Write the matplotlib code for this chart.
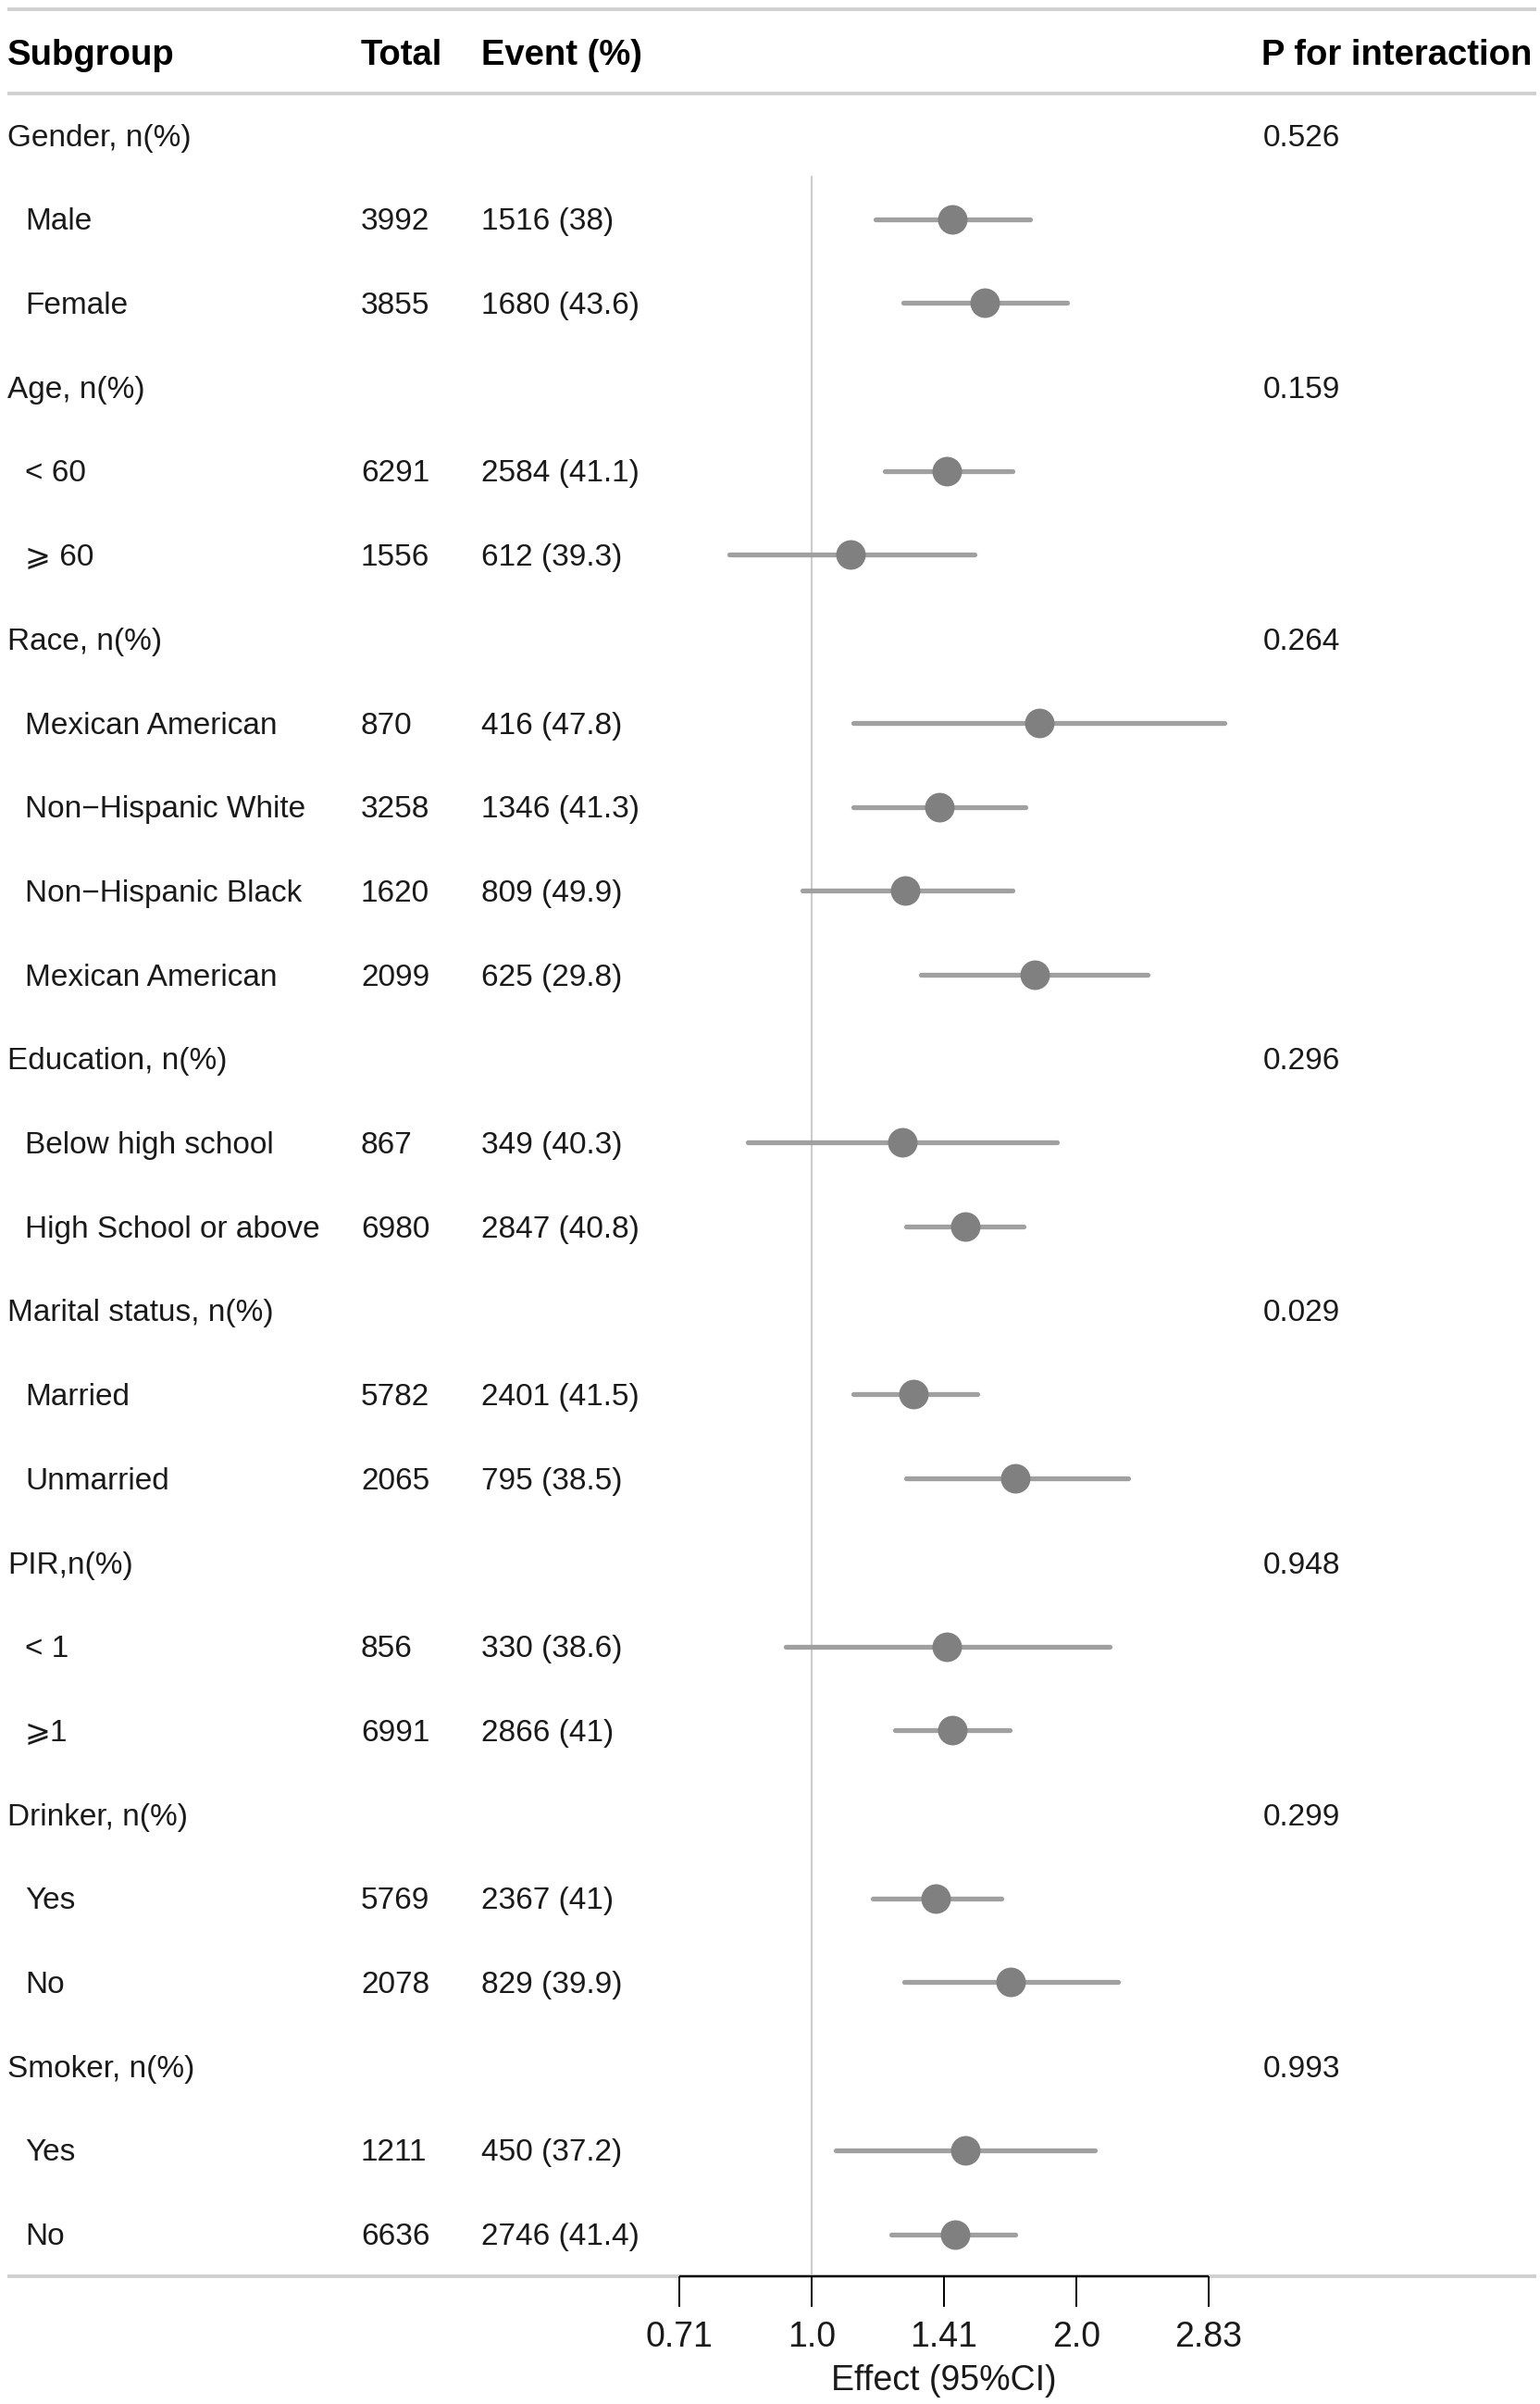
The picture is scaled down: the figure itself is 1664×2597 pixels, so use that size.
import matplotlib
matplotlib.use("Agg")
import matplotlib.pyplot as plt
import numpy as np

# ---------------- data ----------------
group_labels = ["Gender, n(%)", "Age, n(%)", "Race, n(%)", "Education, n(%)",
                "Marital status, n(%)", "PIR,n(%)", "Drinker, n(%)", "Smoker, n(%)"]
p_interaction = ["0.526", "0.159", "0.264", "0.296", "0.029", "0.948", "0.299", "0.993"]
group_sizes = [2, 2, 4, 2, 2, 2, 2, 2]

sub_labels = ["Male", "Female", "< 60", "\u2A7E 60",
              "Mexican American", "Non\u2212Hispanic White", "Non\u2212Hispanic Black", "Mexican American",
              "Below high school", "High School or above", "Married", "Unmarried",
              "< 1", "\u2A7E1", "Yes", "No", "Yes", "No"]
totals = ["3992", "3855", "6291", "1556", "870", "3258", "1620", "2099", "867", "6980",
          "5782", "2065", "856", "6991", "5769", "2078", "1211", "6636"]
events = ["1516 (38)", "1680 (43.6)", "2584 (41.1)", "612 (39.3)", "416 (47.8)",
          "1346 (41.3)", "809 (49.9)", "625 (29.8)", "349 (40.3)", "2847 (40.8)",
          "2401 (41.5)", "795 (38.5)", "330 (38.6)", "2866 (41)", "2367 (41)",
          "829 (39.9)", "450 (37.2)", "2746 (41.4)"]
effect = [1.447, 1.575, 1.426, 1.108, 1.815, 1.397, 1.277, 1.795, 1.267, 1.495,
          1.307, 1.704, 1.426, 1.447, 1.385, 1.685, 1.495, 1.455]
ci_low = [1.183, 1.272, 1.212, 0.806, 1.114, 1.114, 0.975, 1.332, 0.846, 1.281,
          1.114, 1.281, 0.935, 1.243, 1.174, 1.273, 1.064, 1.233]
ci_high = [1.771, 1.952, 1.692, 1.532, 2.950, 1.752, 1.692, 2.410, 1.901, 1.742,
           1.542, 2.292, 2.182, 1.681, 1.643, 2.231, 2.101, 1.704]
tick_values = [2 ** -0.5, 1.0, 2 ** 0.5, 2.0, 2 ** 1.5]
tick_labels = ["0.71", "1.0", "1.41", "2.0", "2.83"]

# ---------------- layout ----------------
W, H = 1665, 2597
DPI = 100
FONT = ["Liberation Sans", "DejaVu Sans"]
plt.rcParams["font.family"] = FONT

row_y0, row_dy = 146.0, 90.7   # pixel y of first row, row spacing
def px2row(p):
    return (p - row_y0) / row_dy

fig = plt.figure(figsize=(W / DPI, H / DPI), dpi=DPI)
fig.patch.set_facecolor("white")

# canvas axes (x in pixels, y in rows)
ax_t = fig.add_axes([0, 0, 1, 1])
ax_t.set_xlim(0, W)
ax_t.set_ylim(px2row(H), px2row(0))
ax_t.axis("off")

# build rows
rows = []  # (kind, label, total, event, p, idx)
k = 0
for g, (gl, pv, n) in enumerate(zip(group_labels, p_interaction, group_sizes)):
    rows.append(("g", gl, "", "", pv, None))
    for j in range(n):
        rows.append(("s", sub_labels[k], totals[k], events[k], "", k))
        k += 1

text_color = "#1a1a1a"
fs_row = 24
fs_head = 27.5
dy_txt = 0.035
dy_head = 0.055

# header
hy = -1 + dy_head
ax_t.text(8, hy, "Subgroup", fontsize=fs_head, fontweight="bold", va="center", ha="left", color="black")
ax_t.text(390, hy, "Total", fontsize=fs_head, fontweight="bold", va="center", ha="left", color="black")
ax_t.text(520, hy, "Event (%)", fontsize=fs_head, fontweight="bold", va="center", ha="left", color="black")
ax_t.text(1363, hy, "P for interaction", fontsize=fs_head, fontweight="bold", va="center", ha="left", color="black")

sub_rows = []
for r, (kind, lab, tot, ev, pv, idx) in enumerate(rows):
    ty = r + dy_txt
    if kind == "g":
        ax_t.text(8, ty, lab, fontsize=fs_row, va="center", ha="left", color=text_color)
        ax_t.text(1365, ty, pv, fontsize=fs_row, va="center", ha="left", color=text_color)
    else:
        ax_t.text(27, ty, lab, fontsize=fs_row, va="center", ha="left", color=text_color)
        ax_t.text(390, ty, tot, fontsize=fs_row, va="center", ha="left", color=text_color)
        ax_t.text(520, ty, ev, fontsize=fs_row, va="center", ha="left", color=text_color)
        sub_rows.append(r)

nrows = len(rows)
# separator lines
for yy in [-1.5, -0.5, nrows - 0.5]:
    ax_t.plot([8, 1660], [yy, yy], color="#d0d0d0", lw=2.8, solid_capstyle="butt", zorder=1)

# ---------------- forest axes ----------------
fx0, fx1 = 690, 1370
bottom_px = row_y0 + row_dy * (nrows - 0.5)
top_px = row_y0 + row_dy * (-1.5)
ax_f = fig.add_axes([fx0 / W, 1 - bottom_px / H, (fx1 - fx0) / W, (bottom_px - top_px) / H])
ax_f.patch.set_alpha(0)
ax_f.set_xscale("log", base=2)
ax_f.set_xlim(2 ** ((fx0 - 877) / 286.0), 2 ** ((fx1 - 877) / 286.0))
ax_f.set_ylim(nrows - 0.5, -1.5)
for s in ax_f.spines.values():
    s.set_visible(False)

# reference line
ax_f.plot([1, 1], [0.5, nrows - 0.5], color="#cccccc", lw=1.5, zorder=1)

ys = np.array(sub_rows, dtype=float)
ax_f.hlines(ys, ci_low, ci_high, color="#a0a0a0", lw=3.8, capstyle="round", zorder=2)
ax_f.plot(effect, ys, "o", color="#808080", markersize=23, markeredgewidth=0, zorder=3)

# x axis line between outer ticks
ax_f.plot([tick_values[0], tick_values[-1]], [nrows - 0.5, nrows - 0.5], color="black",
          lw=1.6, solid_capstyle="butt", zorder=4, clip_on=False)

ax_f.set_yticks([])
ax_f.xaxis.set_minor_locator(matplotlib.ticker.NullLocator())
ax_f.set_xticks(tick_values)
ax_f.set_xticklabels(tick_labels, fontsize=27, color=text_color)
ax_f.tick_params(axis="x", direction="out", length=24, width=1.4, pad=11, color="black")

# x label centred on the axis range
ax_f.text(np.sqrt(tick_values[0] * tick_values[-1]), px2row(2572), "Effect (95%CI)",
          fontsize=27, ha="center", va="center", color=text_color, clip_on=False)

fig.savefig("out.png", dpi=DPI, facecolor="white")
